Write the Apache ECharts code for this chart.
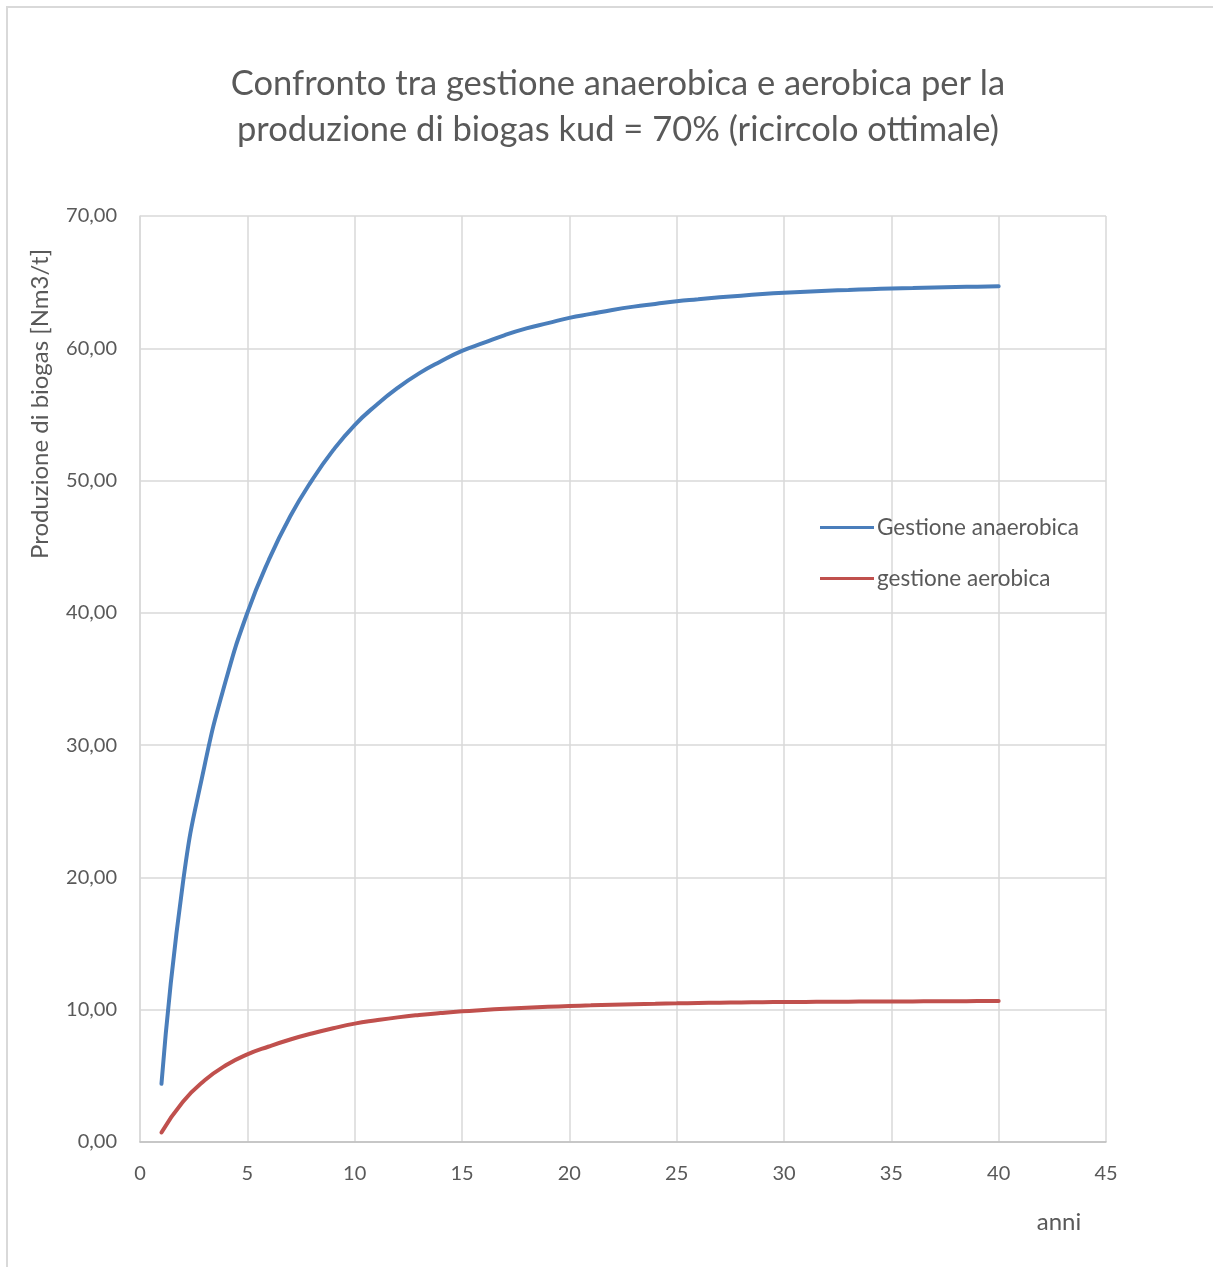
<!DOCTYPE html>
<html>
<head>
<meta charset="utf-8">
<title>Produzione di biogas</title>
<script src="https://cdn.jsdelivr.net/npm/echarts@6/dist/echarts.min.js"></script>
<style>
  html, body { margin: 0; padding: 0; background: #ffffff; }
  #chart { width: 1213px; height: 1267px; }
</style>
</head>
<body>
<div id="chart"></div>
<script>
// Anni di gestione della discarica
const anni = [1, 2, 3, 4, 5, 6, 7, 8, 9, 10,
  11, 12, 13, 14, 15, 16, 17, 18, 19, 20,
  21, 22, 23, 24, 25, 26, 27, 28, 29, 30,
  31, 32, 33, 34, 35, 36, 37, 38, 39, 40];

// Produzione cumulata di biogas [Nm3/t] – gestione anaerobica
const anaerobica = [4.40, 19.6, 28.4, 34.9, 40.0, 44.0, 47.3, 50.0, 52.3, 54.2,
  55.7, 57.0, 58.1, 59.0, 59.8, 60.4, 61.0, 61.5, 61.9, 62.3,
  62.6, 62.9, 63.15, 63.35, 63.55, 63.7, 63.85, 63.98, 64.1, 64.2,
  64.28, 64.35, 64.41, 64.47, 64.52, 64.56, 64.60, 64.63, 64.66, 64.69];

// Produzione cumulata di biogas [Nm3/t] – gestione aerobica
const aerobica = [0.72, 3.05, 4.65, 5.80, 6.62, 7.22, 7.75, 8.20, 8.60, 8.95,
  9.20, 9.42, 9.60, 9.75, 9.88, 9.98, 10.07, 10.15, 10.22, 10.28,
  10.33, 10.38, 10.42, 10.45, 10.48, 10.51, 10.53, 10.55, 10.57, 10.58,
  10.59, 10.60, 10.61, 10.62, 10.63, 10.63, 10.64, 10.64, 10.65, 10.65];

const xTicks = { min: 0, max: 45, interval: 5 };
const yTicks = { min: 0, max: 70, interval: 10 };

const titleLines = 'Confronto tra gestione anaerobica e aerobica per la\nproduzione di biogas kud = 70% (ricircolo ottimale)';
const nomeAsseY = 'Produzione di biogas [Nm3/t]';
const nomeAsseX = 'anni';
const nomiSerie = ['Gestione anaerobica', 'gestione aerobica'];

const FONT = 'Lato, "Open Sans", sans-serif';
const TEXT = '#595959';

const pair = (xs, ys) => xs.map((x, i) => [x, ys[i]]);

const chart = echarts.init(document.getElementById('chart'), null, { renderer: 'canvas' });

chart.setOption({
  backgroundColor: '#ffffff',
  animation: false,
  textStyle: { fontFamily: FONT, color: TEXT },
  grid: { left: 140, right: 107, top: 216, bottom: 125, containLabel: false },
  legend: {
    orient: 'vertical',
    left: 815,
    top: 511,
    itemWidth: 54,
    itemHeight: 3,
    itemGap: 28,
    icon: 'rect',
    textStyle: { fontFamily: FONT, fontSize: 22.5, color: TEXT, padding: [0, 0, 0, -2] },
    data: nomiSerie
  },
  xAxis: {
    type: 'value',
    min: xTicks.min,
    max: xTicks.max,
    interval: xTicks.interval,
    axisLine: { show: true, lineStyle: { color: '#bfbfbf', width: 1.5 } },
    axisTick: { show: false },
    splitLine: { show: true, lineStyle: { color: '#d9d9d9', width: 1.5 } },
    axisLabel: { fontFamily: FONT, fontSize: 20, color: TEXT, margin: 22 }
  },
  yAxis: {
    type: 'value',
    min: yTicks.min,
    max: yTicks.max,
    interval: yTicks.interval,
    axisLine: { show: true, lineStyle: { color: '#d9d9d9', width: 1.5 } },
    axisTick: { show: false },
    splitLine: { show: true, lineStyle: { color: '#d9d9d9', width: 1.5 } },
    axisLabel: {
      fontFamily: FONT, fontSize: 20, color: TEXT, margin: 23,
      formatter: v => v.toFixed(2).replace('.', ',')
    }
  },
  graphic: [
    {
      type: 'rect',
      silent: true,
      shape: { x: 7, y: 7, width: 1240, height: 1300 },
      style: { fill: 'none', stroke: '#d9d9d9', lineWidth: 2 }
    },
    {
      // titolo del grafico su due righe
      type: 'text',
      x: 618,
      y: 107,
      style: {
        text: titleLines,
        fontFamily: FONT,
        fontSize: 34.5,
        lineHeight: 46,
        fill: TEXT,
        align: 'center',
        verticalAlign: 'middle'
      }
    },
    {
      type: 'text',
      x: 40,
      y: 404,
      rotation: Math.PI / 2,
      style: {
        text: nomeAsseY,
        fontFamily: FONT,
        fontSize: 24,
        fill: TEXT,
        align: 'center',
        verticalAlign: 'middle'
      }
    },
    {
      type: 'text',
      x: 1059,
      y: 1222,
      style: {
        text: nomeAsseX,
        fontFamily: FONT,
        fontSize: 24,
        fill: TEXT,
        align: 'center',
        verticalAlign: 'middle'
      }
    }
  ],
  series: [
    {
      name: nomiSerie[0],
      type: 'line',
      data: pair(anni, anaerobica),
      smooth: 0.5,
      showSymbol: false,
      lineStyle: { color: '#4a7ebb', width: 4, cap: 'round' },
      itemStyle: { color: '#4a7ebb' }
    },
    {
      name: nomiSerie[1],
      type: 'line',
      data: pair(anni, aerobica),
      smooth: 0.5,
      showSymbol: false,
      lineStyle: { color: '#c0504d', width: 4, cap: 'round' },
      itemStyle: { color: '#c0504d' }
    }
  ]
});
</script>
</body>
</html>
